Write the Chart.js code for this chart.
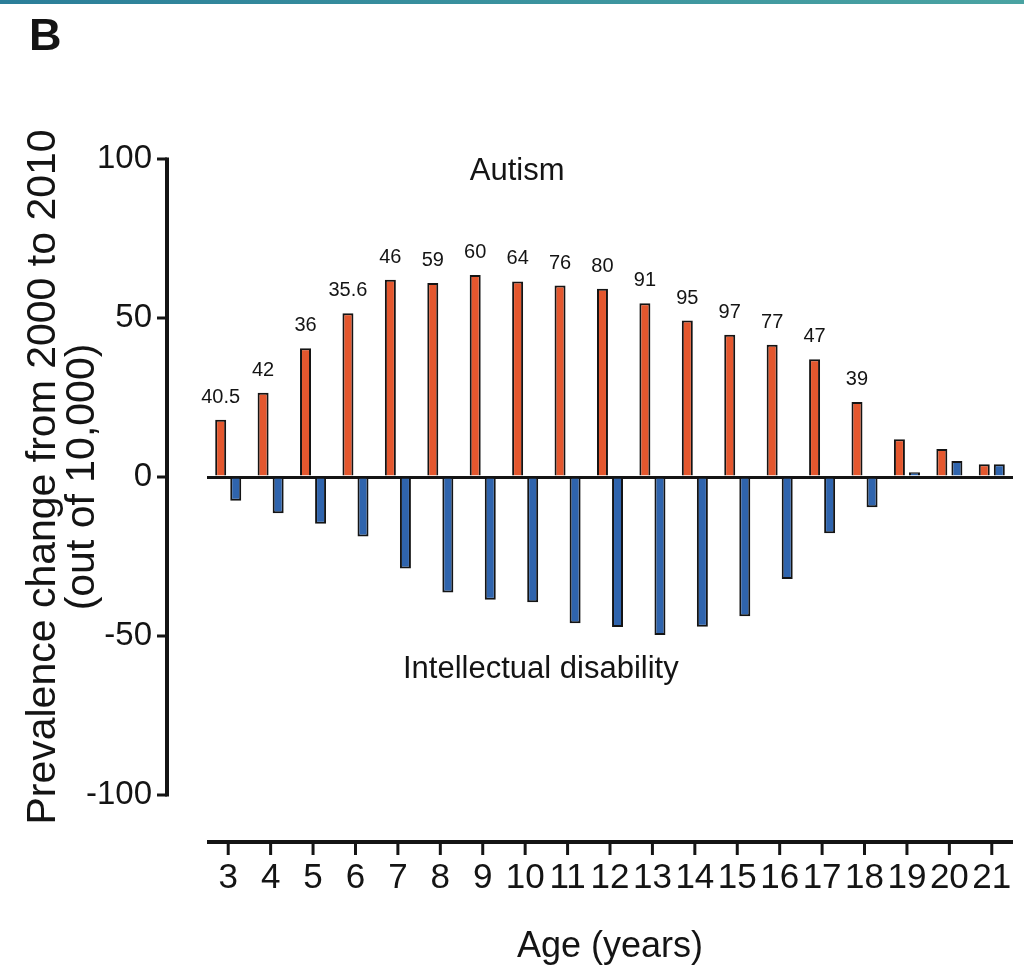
<!DOCTYPE html>
<html>
<head>
<meta charset="utf-8">
<script src="https://cdn.jsdelivr.net/npm/chart.js@4.4.0/dist/chart.umd.min.js"></script>
<style>
  body { margin: 0; background: #fff; overflow: hidden; }
  #wrap { position: relative; width: 1024px; height: 970px; }
  #chart { display: block; }
  #stripe { position: absolute; left: 0; top: 0; width: 1024px; height: 4px;
    background: linear-gradient(90deg, #2b7e99, #3a929e 50%, #4aa3a2); }
</style>
</head>
<body>
<div id="wrap">
  <canvas id="chart" width="1024" height="970"></canvas>
  <div id="stripe"></div>
</div>
<script>
// Data

const ages = ["3", "4", "5", "6", "7", "8", "9", "10", "11", "12", "13", "14", "15", "16", "17", "18", "19", "20", "21"];
const autism = [18, 26.5, 40.5, 51.5, 62, 61, 63.5, 61.5, 60.2, 59.2, 54.6, 49.2, 44.7, 41.6, 37, 23.6, 11.9, 8.8, 4];
const intellectual = [-7.5, -11.4, -14.7, -18.7, -28.8, -36.3, -38.6, -39.4, -46, -47.2, -49.7, -47.1, -43.8, -32.1, -17.7, -9.5, 1.5, 5, 4];
const autismLabels = ["40.5", "42", "36", "35.6", "46", "59", "60", "64", "76", "80", "91", "95", "97", "77", "47", "39", "", "", ""];
const yTicks = [100, 50, 0, -50, -100];

const font = "'Liberation Sans', Arial, Helvetica, sans-serif";
const ink = "#141414";

// Prism style axes, labels and panel letter

const prismPlugin = {
  id: "prism",
  afterDraw(chart) {
    const { ctx, chartArea, scales } = chart;
    const x = scales.x;
    const y = scales.y;
    const yLineX = chartArea.left - 40;
    const xLineY = chartArea.bottom + 47;

    ctx.save();
    ctx.strokeStyle = ink;
    ctx.lineCap = "butt";

    // y axis
    ctx.lineWidth = 4;
    ctx.beginPath();
    ctx.moveTo(yLineX, y.getPixelForValue(yTicks[0]) - 1.5);
    ctx.lineTo(yLineX, y.getPixelForValue(yTicks[yTicks.length - 1]) + 1.5);
    ctx.stroke();
    ctx.lineWidth = 3;
    yTicks.forEach(v => {
      const py = y.getPixelForValue(v);
      ctx.beginPath();
      ctx.moveTo(yLineX - 10, py);
      ctx.lineTo(yLineX, py);
      ctx.stroke();
    });

    // x axis
    ctx.lineWidth = 4;
    ctx.beginPath();
    ctx.moveTo(chartArea.left, xLineY);
    ctx.lineTo(chartArea.right, xLineY);
    ctx.stroke();
    ctx.lineWidth = 3;
    ages.forEach((a, i) => {
      const px = x.getPixelForValue(i);
      ctx.beginPath();
      ctx.moveTo(px, xLineY);
      ctx.lineTo(px, xLineY + 13);
      ctx.stroke();
    });

    // value labels over the autism bars
    ctx.fillStyle = ink;
    ctx.font = "20px " + font;
    ctx.textAlign = "center";
    ctx.textBaseline = "alphabetic";
    chart.getDatasetMeta(0).data.forEach((bar, i) => {
      if (autismLabels[i]) ctx.fillText(autismLabels[i], bar.x, bar.y - 17);
    });

    // series names
    ctx.font = "31px " + font;
    ctx.textBaseline = "middle";
    ctx.fillText("Autism", x.getPixelForValue(6.81), y.getPixelForValue(96));
    ctx.fillText("Intellectual disability", x.getPixelForValue(7.37), y.getPixelForValue(-60.4));

    // panel letter
    ctx.font = "bold 45px " + font;
    ctx.textAlign = "left";
    ctx.textBaseline = "alphabetic";
    ctx.fillText("B", 29, 50);
    ctx.restore();
  }
};

// Chart

const ctx = document.getElementById("chart").getContext("2d");
const chart = new Chart(ctx, {
  type: "bar",
  data: {
    labels: ages,
    datasets: [
      {
        label: "Autism",
        data: autism,
        backgroundColor: "#e4572e",
        borderColor: ink,
        borderWidth: 2,
        categoryPercentage: 0.71,
        barPercentage: 0.73,
      },
      {
        label: "Intellectual disability",
        data: intellectual,
        backgroundColor: "#2f64ad",
        borderColor: ink,
        borderWidth: 2,
        categoryPercentage: 0.71,
        barPercentage: 0.73,
      },
    ],
  },
  options: {
    responsive: false,
    animation: false,
    layout: { padding: { top: 159, right: 11, bottom: 0, left: 0 } },
    plugins: {
      legend: { display: false },
      tooltip: { enabled: false },
    },
    scales: {
      x: {
        // invisible tick marks only push the labels below the offset axis line
        grid: { display: true, drawOnChartArea: false, color: "rgba(0,0,0,0)", tickLength: 60 },
        border: { display: false },
        ticks: {
          color: ink,
          font: { family: font, size: 35 },
          padding: 2,
          maxRotation: 0,
          autoSkip: false,
        },
        title: {
          display: true,
          text: "Age (years)",
          color: ink,
          font: { family: font, size: 36 },
          padding: { top: 0, bottom: 1 },
        },
        afterFit(scale) { scale.height = 175; },
      },
      y: {
        min: -100,
        max: 100,
        afterBuildTicks(scale) { scale.ticks = yTicks.map(v => ({ value: v })); },
        grid: {
          drawTicks: false,
          lineWidth: 3,
          color: c => (c.tick && c.tick.value === 0 ? ink : "rgba(0,0,0,0)"),
        },
        border: { display: false },
        ticks: {
          color: ink,
          font: { family: font, size: 33 },
          padding: 55,
        },
        title: {
          display: true,
          text: ["Prevalence change from 2000 to 2010", "(out of 10,000)"],
          color: ink,
          font: { family: font, size: 41, lineHeight: 0.93 },
          padding: { top: 25, bottom: 0 },
        },
        afterFit(scale) { scale.width = 207; },
      },
    },
  },
  plugins: [prismPlugin],
});
</script>
</body>
</html>
